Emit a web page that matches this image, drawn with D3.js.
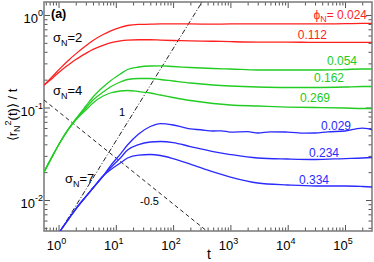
<!DOCTYPE html>
<html><head><meta charset="utf-8">
<script src="https://cdn.jsdelivr.net/npm/d3@7/dist/d3.min.js"></script>
<style>body{margin:0;background:#fff}svg{display:block;font-family:"Liberation Sans",Arial,sans-serif}</style>
</head><body><svg id="c" width="374" height="262"></svg>
<script>
// ---- data ----
const tGrid = [0.56,0.8,1.1,1.5,2,3,4,6,8,12,16,25,40,60,100,200,500,1000,3000,1e4,3e4,1e5,2e5,3e5];
const redA   = [0.175,0.22,0.27,0.325,0.38,0.465,0.53,0.615,0.67,0.735,0.77,0.79,0.795,0.80,0.80,0.80,0.795,0.80,0.80,0.80,0.80,0.805,0.81,0.81];
const redB   = [0.175,0.21,0.25,0.29,0.33,0.385,0.425,0.47,0.50,0.525,0.535,0.54,0.54,0.535,0.53,0.525,0.52,0.515,0.51,0.51,0.505,0.505,0.505,0.505];
const greenA = [0.0201,0.0306,0.0434,0.0586,0.0751,0.1038,0.1299,0.1665,0.1934,0.2302,0.2576,0.274,0.281,0.282,0.2775,0.2706,0.264,0.2608,0.2543,0.2543,0.2543,0.2576,0.2608,0.2608];
const greenB = [0.0201,0.0306,0.0434,0.0586,0.0742,0.0988,0.1206,0.1471,0.1665,0.1887,0.2008,0.2059,0.2059,0.2008,0.1934,0.184,0.1751,0.1708,0.1665,0.1645,0.1645,0.1665,0.1687,0.1687];
const greenC = [0.0201,0.0306,0.0434,0.0586,0.0733,0.094,0.1119,0.1331,0.1435,0.1508,0.1527,0.1489,0.1435,0.1365,0.1283,0.119,0.1105,0.1064,0.1038,0.1012,0.100,0.0988,0.0975,0.0975];
const blueAT = [0.56,0.8,1.1,1.5,2,3,4,6,8,12,16,25,40,60,100,150,200,300,500,700,1000,2000,3000,5000,1e4,2e4,3e4,5e4,1e5,1.5e5,2e5,2.5e5,3e5];
const blueA  = [0.00248,0.00343,0.00474,0.00623,0.00799,0.0109,0.01348,0.01817,0.0233,0.0314,0.0393,0.0517,0.0623,0.0671,0.0647,0.0610,0.0586,0.0575,0.0557,0.0560,0.0543,0.0548,0.0530,0.0545,0.0543,0.0528,0.0530,0.0546,0.0557,0.0585,0.0600,0.0590,0.0571];
const blueB  = [0.00248,0.00343,0.00474,0.00623,0.00799,0.0109,0.01348,0.01817,0.02217,0.02844,0.0347,0.0398,0.04236,0.04289,0.04183,0.03787,0.03344,0.03103,0.02844,0.02774,0.0274,0.02808,0.02844,0.02881];
const blueC  = [0.00248,0.00343,0.00474,0.00623,0.00799,0.0109,0.01348,0.01817,0.0211,0.02512,0.02844,0.03064,0.03103,0.03028,0.02808,0.02449,0.0201,0.01772,0.01527,0.01453,0.01417,0.01417,0.01399,0.01382];
const slopeOneT = [0.9, 350];
const slopeOneV = [0.00389, 1.512];
const slopeHalfT = [0.558, 400];
const slopeHalfV = [0.1205, 0.00455];
const xTickExps = [0,1,2,3,4,5];
const yTickExps = [-2,-1,0];
const phiLabels = ["0.024","0.112","0.054","0.162","0.269","0.029","0.234","0.334"];
const sigmaLabels = ["2","4","7"];

// ---- layout ----
const W=374,H=262,m={l:44,r:2,t:2,b:31};
const svg=d3.select("#c");
const x=d3.scaleLog().domain([0.558,2.96e5]).range([m.l,W-m.r]);
const y=d3.scaleLog().domain([0.004624,1.382]).range([H-m.b,m.t]);
const RED="#ff1f1f",GREEN="#22cc22",BLUE="#2a2aff",AX="#808080";

svg.append("defs").append("clipPath").attr("id","clip").append("rect")
  .attr("x",m.l).attr("y",m.t).attr("width",W-m.l-m.r).attr("height",H-m.t-m.b);

// minor tick positions
const xMinor=[],yMinor=[];
for(let e=-1;e<=5;e++)for(let k=2;k<=9;k++){const v=k*Math.pow(10,e);if(v>=x.domain()[0]&&v<=x.domain()[1])xMinor.push(v);}
for(let e=-3;e<=0;e++)for(let k=2;k<=9;k++){const v=k*Math.pow(10,e);if(v>=y.domain()[0]&&v<=y.domain()[1])yMinor.push(v);}
const xMajor=xTickExps.map(e=>Math.pow(10,e)), yMajor=yTickExps.map(e=>Math.pow(10,e));

function drawAxis(gen,scale,vals,size,tr){
  const g=svg.append("g").attr("transform",tr).call(gen(scale).tickValues(vals).tickSize(-size).tickFormat(""));
  g.select(".domain").remove();
  g.selectAll("line").attr("stroke","#555").attr("stroke-width",1);
}
const bx=`translate(0,${H-m.b})`, tx=`translate(0,${m.t})`, ly=`translate(${m.l},0)`, ry=`translate(${W-m.r},0)`;
drawAxis(d3.axisBottom,x,xMajor,6,bx);drawAxis(d3.axisBottom,x,xMinor,3.5,bx);
drawAxis(d3.axisTop,x,xMajor,6,tx);drawAxis(d3.axisTop,x,xMinor,3.5,tx);
drawAxis(d3.axisLeft,y,yMajor,6,ly);drawAxis(d3.axisLeft,y,yMinor,3.5,ly);
drawAxis(d3.axisRight,y,yMajor,6,ry);drawAxis(d3.axisRight,y,yMinor,3.5,ry);

svg.append("rect").attr("x",m.l).attr("y",m.t).attr("width",W-m.l-m.r).attr("height",H-m.t-m.b)
  .attr("fill","none").attr("stroke",AX).attr("stroke-width",1.6);

// tick labels
xTickExps.forEach(e=>{
  const t=svg.append("text").attr("x",x(Math.pow(10,e))-2).attr("y",250).attr("text-anchor","middle").attr("font-size",13);
  t.append("tspan").text("10");
  t.append("tspan").attr("dy",-6).attr("font-size",9).text(e);
});
yTickExps.forEach(e=>{
  const t=svg.append("text").attr("x",43).attr("y",y(Math.pow(10,e))+8).attr("text-anchor","end").attr("font-size",13);
  t.append("tspan").text("10");
  t.append("tspan").attr("dy",-7).attr("font-size",9).text(e);
});

// axis titles
svg.append("text").attr("x",209).attr("y",259).attr("text-anchor","middle").attr("font-size",14).text("t");
const yl=svg.append("text").attr("transform","translate(17,115) rotate(-90)").attr("text-anchor","middle").attr("font-size",13);
yl.append("tspan").text("\u27E8r");
yl.append("tspan").attr("dy",3).attr("font-size",9).text("N");
yl.append("tspan").attr("dy",-9).attr("font-size",9).text("2");
yl.append("tspan").attr("dy",6).text("(t)\u27E9 / t");

// guide lines
const plot=svg.append("g").attr("clip-path","url(#clip)");
const line=d3.line().x(d=>x(d[0])).y(d=>y(d[1]));
plot.append("path").datum(slopeOneT.map((t,i)=>[t,slopeOneV[i]])).attr("d",line)
  .attr("fill","none").attr("stroke","#222").attr("stroke-width",1).attr("stroke-dasharray","5,2,1,2");
plot.append("path").datum(slopeHalfT.map((t,i)=>[t,slopeHalfV[i]])).attr("d",line)
  .attr("fill","none").attr("stroke","#222").attr("stroke-width",1).attr("stroke-dasharray","4,3");

// curves
const curve=d3.line().x(d=>x(d[0])).y(d=>y(d[1])).curve(d3.curveMonotoneX);
const series=[[tGrid,redA,RED],[tGrid,redB,RED],[tGrid,greenA,GREEN],[tGrid,greenB,GREEN],[tGrid,greenC,GREEN],
  [blueAT,blueA,BLUE],[tGrid,blueB,BLUE],[tGrid,blueC,BLUE]];
series.forEach(([T,V,c])=>{
  plot.append("path").datum(T.map((t,i)=>[t,V[i]])).attr("d",curve)
    .attr("fill","none").attr("stroke",c).attr("stroke-width",1.3);
});

// annotations
svg.append("text").attr("x",51).attr("y",18).attr("font-size",12.5).attr("font-weight","bold").text("(a)");
const sigPos=[[53,42],[53,95],[65,183]];
sigmaLabels.forEach((s,i)=>{
  const t=svg.append("text").attr("x",sigPos[i][0]).attr("y",sigPos[i][1]).attr("font-size",13);
  t.append("tspan").text("\u03C3");
  t.append("tspan").attr("dy",4).attr("font-size",9).text("N");
  t.append("tspan").attr("dy",-4).text("="+s);
});
const phiPos=[[367,18.5,RED],[327,39,RED],[357,65,GREEN],[344,82,GREEN],[330,101.5,GREEN],[351,130,BLUE],[339,156.5,BLUE],[329,184,BLUE]];
phiLabels.forEach((p,i)=>{
  const t=svg.append("text").attr("x",phiPos[i][0]).attr("y",phiPos[i][1]).attr("text-anchor","end")
    .attr("font-size",12).attr("fill",phiPos[i][2]);
  if(i===0){
    t.append("tspan").text("\u03D5");
    t.append("tspan").attr("dy",3).attr("font-size",9).text("N");
    t.append("tspan").attr("dy",-3).text("= "+p);
  } else t.text(p);
});
svg.append("text").attr("x",119).attr("y",116).attr("font-size",11).text("1");
svg.append("text").attr("x",140).attr("y",205).attr("font-size",11).text("-0.5");
</script></body></html>
